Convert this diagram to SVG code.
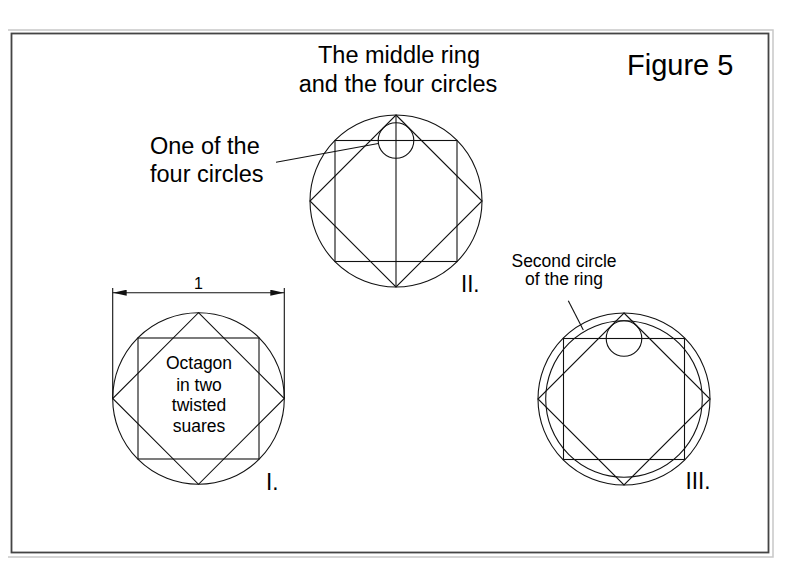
<svg xmlns="http://www.w3.org/2000/svg" width="800" height="565" viewBox="0 0 800 565">
<style>
.ln{fill:none;stroke:#111;stroke-width:1.1}
.t{font-family:"Liberation Sans",Arial,sans-serif;fill:#000}
.num{font-family:"Liberation Sans",Arial,sans-serif;fill:#000;font-size:24.5px}
</style>
<defs>
<marker id="arr" viewBox="0 0 14 6" refX="14" refY="3" markerWidth="14" markerHeight="6" markerUnits="userSpaceOnUse" orient="auto-start-reverse">
<path d="M0,0 L14,3 L0,6 Z" fill="#111"/>
</marker>
</defs>
<rect width="800" height="565" fill="#fff"/>
<g id="frame">
<polyline points="8,30 773,30 773,557 8,557" fill="none" stroke="#c8c8c8" stroke-width="1.5"/>
<rect x="11.5" y="33.5" width="757" height="519" fill="none" stroke="#444" stroke-width="1.8"/>
</g>
<g id="title">
<text class="t" x="627" y="75" font-size="29">Figure 5</text>
<text class="t" x="399" y="63" font-size="23.5" text-anchor="middle">The middle ring</text>
<text class="t" x="398" y="91.5" font-size="23.5" text-anchor="middle">and the four circles</text>
</g>
<g id="fig1">
<circle class="ln" cx="198.5" cy="398.5" r="85.8"/>
<rect class="ln" x="138" y="338" width="121" height="121"/>
<polygon class="ln" points="198.5,312.7 284.3,398.5 198.5,484.3 112.7,398.5"/>
<text class="t" font-size="17.5" text-anchor="middle"><tspan x="199" y="369">Octagon</tspan><tspan x="199" y="390.5">in two</tspan><tspan x="199" y="411">twisted</tspan><tspan x="199" y="432">suares</tspan></text>
<text class="num" x="266" y="490" textLength="12.5" lengthAdjust="spacingAndGlyphs">I.</text>
</g>
<g id="dimension">
<line class="ln" x1="112.7" y1="288" x2="112.7" y2="398.5"/>
<line class="ln" x1="284.3" y1="288" x2="284.3" y2="398.5"/>
<line class="ln" x1="112.7" y1="292.7" x2="284.3" y2="292.7" marker-start="url(#arr)" marker-end="url(#arr)"/>
<text class="t" x="198.5" y="289" font-size="16" text-anchor="middle">1</text>
</g>
<g id="fig2">
<circle class="ln" cx="396" cy="201" r="86"/>
<rect class="ln" x="335" y="140.5" width="122" height="121"/>
<polygon class="ln" points="396,115 482,201 396,287 310,201"/>
<line class="ln" x1="396" y1="115" x2="396" y2="287"/>
<circle class="ln" cx="396" cy="140.5" r="17.8"/>
<text class="num" x="461" y="292" textLength="18.5" lengthAdjust="spacingAndGlyphs">II.</text>
</g>
<g id="fig3">
<circle class="ln" cx="624" cy="399" r="86"/>
<circle class="ln" cx="624" cy="399" r="78.3"/>
<rect class="ln" x="563.5" y="338.5" width="121" height="121"/>
<polygon class="ln" points="624,313 710,399 624,485 538,399"/>
<circle class="ln" cx="624" cy="338.5" r="17.8"/>
<text class="num" x="685.5" y="489" textLength="25" lengthAdjust="spacingAndGlyphs">III.</text>
</g>
<g id="label-one">
<text class="t" x="150" y="154" font-size="23.5">One of the</text>
<text class="t" x="150" y="181.5" font-size="23.5">four circles</text>
</g>
<g id="label-second">
<text class="t" x="564" y="266.5" font-size="17.5" text-anchor="middle">Second circle</text>
<text class="t" x="564" y="285" font-size="17.5" text-anchor="middle">of the ring</text>
</g>
<g id="connectors">
<line class="ln" x1="276" y1="162.3" x2="378.3" y2="143.5"/>
<line class="ln" x1="568.3" y1="300.7" x2="583.3" y2="330"/>
</g>
</svg>
